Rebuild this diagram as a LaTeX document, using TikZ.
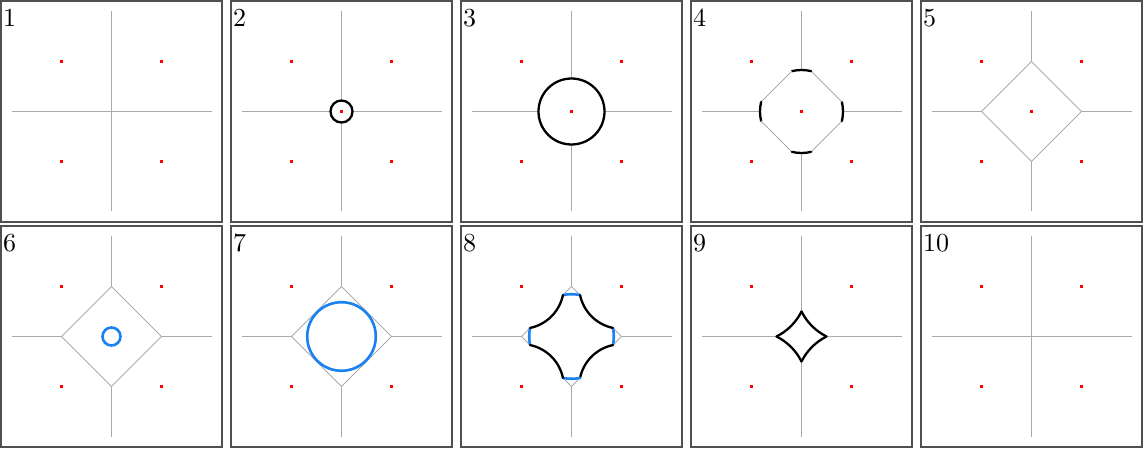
\documentclass[tikz,border=0pt]{standalone}
\definecolor{framegray}{RGB}{80,80,80}
\definecolor{axisgray}{RGB}{170,170,170}
\definecolor{frontblue}{RGB}{25,130,240}
\tikzset{
 pframe/.style={draw=framegray,line width=1.7pt},
 axisline/.style={draw=axisgray,line width=1.4pt},
 vorline/.style={draw=axisgray,line width=1pt},
 blackfront/.style={draw=black,line width=2.3pt,line cap=round,line join=round},
 bluefront/.style={draw=frontblue,line width=2.6pt,line cap=round},
 site/.style={rectangle,fill=red,inner sep=0pt,minimum size=3.2pt},
 plabel/.style={anchor=north west,inner sep=0pt,scale=2.6,font=\fontsize{10}{10}\selectfont},
}
\newcommand{\cornersites}[1]{\foreach \i/\u/\v in {a/-50/-50,b/50/-50,c/-50/50,d/50/50} \node[site] (#1\i) at (\u,\v) {};}
\newcommand{\axisarms}[1]{\foreach \a in {0,90,180,270} \draw[axisline,rotate=\a] (#1,0) -- (100,0);}
\newcommand{\fullcross}{\draw[axisline] (-100,0) -- (100,0); \draw[axisline] (0,-100) -- (0,100);}
\newcommand{\fulldiamond}{\draw[vorline] (50,0) -- (0,50) -- (-50,0) -- (0,-50) -- cycle;}
\newcommand{\panelbox}[2]{\draw[pframe] (-110.5,-110.5) rectangle (110.5,110.5); \node[plabel] (lab#1) at (-108.8,-103) {#2};}
\begin{document}
\begin{tikzpicture}[x=1pt,y=-1pt]
\useasboundingbox (0,0) rectangle (1144,449);
% 1
\begin{scope}[shift={(111.5,111.5)}]
 \panelbox{1}{1}
 \fullcross
 \cornersites{pa}
\end{scope}
% 2
\begin{scope}[shift={(341.5,111.5)}]
 \panelbox{2}{2}
 \axisarms{11}
 \draw[blackfront] (0,0) circle[radius=11];
 \cornersites{pb}
 \node[site] (pbo) at (0,0) {};
\end{scope}
% 3
\begin{scope}[shift={(571.5,111.5)}]
 \panelbox{3}{3}
 \axisarms{33}
 \draw[blackfront] (0,0) circle[radius=33];
 \cornersites{pc}
 \node[site] (pco) at (0,0) {};
\end{scope}
% 4
\begin{scope}[shift={(801.5,111.5)}]
 \panelbox{4}{4}
 \axisarms{41.5}
 \foreach \a in {0,90,180,270} {
  \draw[vorline,rotate=\a] (40.37,9.63) -- (9.63,40.37);
  \draw[blackfront,rotate=\a] (-13.4:41.5) arc[start angle=-13.4,end angle=13.4,radius=41.5];
 }
 \cornersites{pd}
 \node[site] (pdo) at (0,0) {};
\end{scope}
% 5
\begin{scope}[shift={(1031.5,111.5)}]
 \panelbox{5}{5}
 \axisarms{50}
 \fulldiamond
 \cornersites{pe}
 \node[site] (peo) at (0,0) {};
\end{scope}
% 6
\begin{scope}[shift={(111.5,336.5)}]
 \panelbox{6}{6}
 \axisarms{50}
 \fulldiamond
 \draw[bluefront] (0,0) circle[radius=9];
 \cornersites{pf}
\end{scope}
% 7
\begin{scope}[shift={(341.5,336.5)}]
 \panelbox{7}{7}
 \axisarms{50}
 \fulldiamond
 \draw[bluefront] (0,0) circle[radius=34.3];
 \cornersites{pg}
\end{scope}
% 8
\begin{scope}[shift={(571.5,336.5)}]
 \panelbox{8}{8}
 \axisarms{50}
 \foreach \a in {0,90,180,270} {
  \draw[vorline,rotate=\a] (41.42,8.58) -- (50,0) -- (41.42,-8.58);
  \draw[bluefront,rotate=\a] (-11.7:42.3) arc[start angle=-11.7,end angle=11.7,radius=42.3];
  \draw[blackfront,rotate=\a] ([shift={(191.7:42.3)}]50,50) arc[start angle=191.7,end angle=258.3,radius=42.3];
 }
 \cornersites{ph}
\end{scope}
% 9
\begin{scope}[shift={(801.5,336.5)}]
 \panelbox{9}{9}
 \axisarms{25}
 \foreach \a in {0,90,180,270} {
  \draw[blackfront,rotate=\a] (0,25) arc[start angle=206.57,end angle=243.43,radius=55.9];
 }
 \cornersites{pi}
\end{scope}
% 10
\begin{scope}[shift={(1031.5,336.5)}]
 \panelbox{10}{10}
 \fullcross
 \cornersites{pj}
\end{scope}
\end{tikzpicture}
\end{document}
